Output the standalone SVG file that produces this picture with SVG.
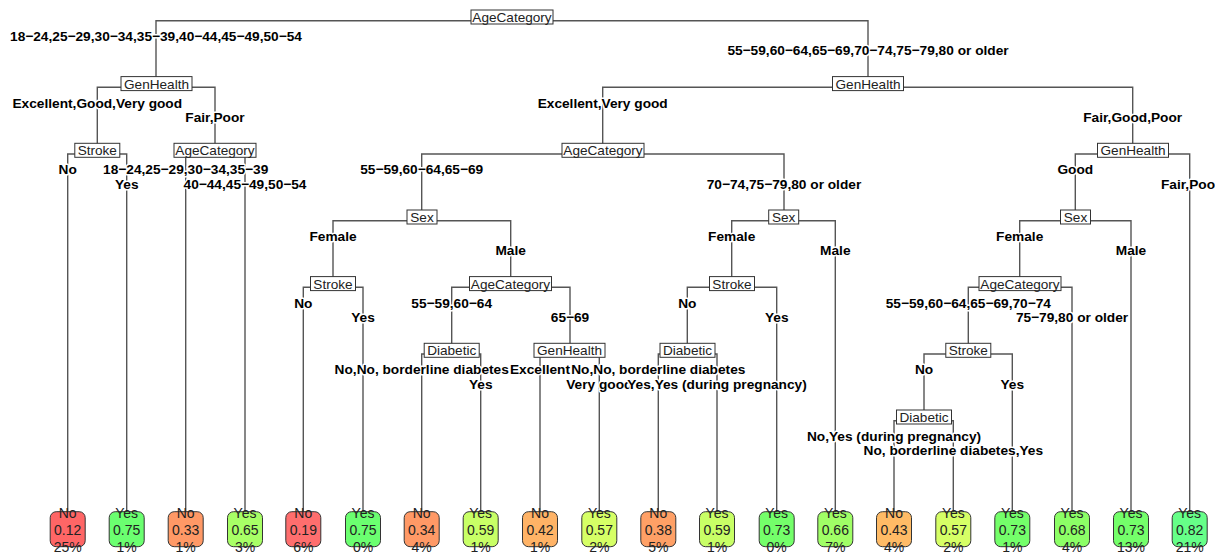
<svg xmlns="http://www.w3.org/2000/svg" width="1215" height="553" viewBox="0 0 1215 553">
<style>
.ln{fill:none;stroke:#555;stroke-width:1.4}
.lb{font-family:"Liberation Sans",Arial,sans-serif;font-size:13.7px;font-weight:bold;fill:#000;text-anchor:middle;stroke:#fff;stroke-width:3;paint-order:stroke;stroke-linejoin:round}
.sb{fill:#fff;stroke:#333;stroke-width:1}
.st{font-family:"Liberation Sans",Arial,sans-serif;font-size:13.6px;fill:#222;text-anchor:middle}
.lf{stroke:#333;stroke-width:1}
.lt{font-family:"Liberation Sans",Arial,sans-serif;font-size:14px;fill:#222;text-anchor:middle}
</style>
<rect width="1215" height="553" fill="#fff"/>
<g id="connectors">
<path class="ln" d="M156,83.6V20.7H868V83.6"/>
<path class="ln" d="M97.3,150.3V87.3H215V150.3"/>
<path class="ln" d="M67.7,512V154H126.7V512"/>
<path class="ln" d="M185.7,512V154H245V512"/>
<path class="ln" d="M602.7,150.3V87.3H1132.7V150.3"/>
<path class="ln" d="M421.7,217V154H784V217"/>
<path class="ln" d="M333,283.6V220.7H510.7V283.6"/>
<path class="ln" d="M303.3,512V287.3H363V512"/>
<path class="ln" d="M451.7,350.3V287.3H570V350.3"/>
<path class="ln" d="M421.7,512V354H480.7V512"/>
<path class="ln" d="M540,512V354H599.3V512"/>
<path class="ln" d="M731.7,283.6V220.7H835.3V512"/>
<path class="ln" d="M687.3,350.3V287.3H776.7V512"/>
<path class="ln" d="M658.3,512V354H717V512"/>
<path class="ln" d="M1075.3,217V154H1189.7V512"/>
<path class="ln" d="M1019.7,283.6V220.7H1131V512"/>
<path class="ln" d="M968.3,350.3V287.3H1072V512"/>
<path class="ln" d="M924,417V354H1012.3V512"/>
<path class="ln" d="M894,512V420.7H953.3V512"/>
</g>
<g id="edge-labels">
<text class="lb" x="156" y="41">18−24,25−29,30−34,35−39,40−44,45−49,50−54</text>
<text class="lb" x="868" y="55.2">55−59,60−64,65−69,70−74,75−79,80 or older</text>
<text class="lb" x="97.3" y="107.6">Excellent,Good,Very good</text>
<text class="lb" x="215" y="121.8">Fair,Poor</text>
<text class="lb" x="602.7" y="107.6">Excellent,Very good</text>
<text class="lb" x="1132.7" y="121.8">Fair,Good,Poor</text>
<text class="lb" x="67.7" y="174.3">No</text>
<text class="lb" x="126.7" y="188.5">Yes</text>
<text class="lb" x="185.7" y="174.3">18−24,25−29,30−34,35−39</text>
<text class="lb" x="245" y="188.5">40−44,45−49,50−54</text>
<text class="lb" x="421.7" y="174.3">55−59,60−64,65−69</text>
<text class="lb" x="784" y="188.5">70−74,75−79,80 or older</text>
<text class="lb" x="1075.3" y="174.3">Good</text>
<text class="lb" x="1161" y="188.5" style="text-anchor:start">Fair,Poo</text>
<text class="lb" x="333" y="241">Female</text>
<text class="lb" x="510.7" y="255.2">Male</text>
<text class="lb" x="731.7" y="241">Female</text>
<text class="lb" x="835.3" y="255.2">Male</text>
<text class="lb" x="1019.7" y="241">Female</text>
<text class="lb" x="1131" y="255.2">Male</text>
<text class="lb" x="303.3" y="307.6">No</text>
<text class="lb" x="363" y="321.8">Yes</text>
<text class="lb" x="451.7" y="307.6">55−59,60−64</text>
<text class="lb" x="570" y="321.8">65−69</text>
<text class="lb" x="687.3" y="307.6">No</text>
<text class="lb" x="776.7" y="321.8">Yes</text>
<text class="lb" x="968.3" y="307.6">55−59,60−64,65−69,70−74</text>
<text class="lb" x="1072" y="321.8">75−79,80 or older</text>
<text class="lb" x="421.7" y="374.3">No,No, borderline diabetes</text>
<text class="lb" x="480.7" y="388.5">Yes</text>
<text class="lb" x="540" y="374.3">Excellent</text>
<text class="lb" x="599.3" y="388.5">Very good</text>
<text class="lb" x="658.3" y="374.3">No,No, borderline diabetes</text>
<text class="lb" x="717" y="388.5">Yes,Yes (during pregnancy)</text>
<text class="lb" x="924" y="374.3">No</text>
<text class="lb" x="1012.3" y="388.5">Yes</text>
<text class="lb" x="894" y="441">No,Yes (during pregnancy)</text>
<text class="lb" x="953.3" y="455.2">No, borderline diabetes,Yes</text>
</g>
<g id="n1"><rect class="sb" x="471" y="10" width="82" height="14"/><text class="st" x="512" y="22">AgeCategory</text></g>
<g id="n2"><rect class="sb" x="121" y="76.6" width="71" height="14"/><text class="st" x="156.5" y="88.6">GenHealth</text></g>
<g id="n3"><rect class="sb" x="74.8" y="143.3" width="45" height="14"/><text class="st" x="97.3" y="155.3">Stroke</text></g>
<g id="n4"><rect class="sb" x="174" y="143.3" width="82" height="14"/><text class="st" x="215" y="155.3">AgeCategory</text></g>
<g id="n5"><rect class="sb" x="832.5" y="76.6" width="71" height="14"/><text class="st" x="868" y="88.6">GenHealth</text></g>
<g id="n6"><rect class="sb" x="562" y="143.3" width="82" height="14"/><text class="st" x="603" y="155.3">AgeCategory</text></g>
<g id="n7"><rect class="sb" x="407" y="210" width="30" height="14"/><text class="st" x="422" y="222">Sex</text></g>
<g id="n8"><rect class="sb" x="310.5" y="276.6" width="45" height="14"/><text class="st" x="333" y="288.6">Stroke</text></g>
<g id="n9"><rect class="sb" x="469.5" y="276.6" width="82" height="14"/><text class="st" x="510.5" y="288.6">AgeCategory</text></g>
<g id="n10"><rect class="sb" x="424.2" y="343.3" width="55" height="14"/><text class="st" x="451.7" y="355.3">Diabetic</text></g>
<g id="n11"><rect class="sb" x="534" y="343.3" width="71" height="14"/><text class="st" x="569.5" y="355.3">GenHealth</text></g>
<g id="n12"><rect class="sb" x="768.7" y="210" width="30" height="14"/><text class="st" x="783.7" y="222">Sex</text></g>
<g id="n13"><rect class="sb" x="709.5" y="276.6" width="45" height="14"/><text class="st" x="732" y="288.6">Stroke</text></g>
<g id="n14"><rect class="sb" x="660" y="343.3" width="55" height="14"/><text class="st" x="687.5" y="355.3">Diabetic</text></g>
<g id="n15"><rect class="sb" x="1097.5" y="143.3" width="71" height="14"/><text class="st" x="1133" y="155.3">GenHealth</text></g>
<g id="n16"><rect class="sb" x="1060.5" y="210" width="30" height="14"/><text class="st" x="1075.5" y="222">Sex</text></g>
<g id="n17"><rect class="sb" x="979" y="276.6" width="82" height="14"/><text class="st" x="1020" y="288.6">AgeCategory</text></g>
<g id="n18"><rect class="sb" x="945.8" y="343.3" width="45" height="14"/><text class="st" x="968.3" y="355.3">Stroke</text></g>
<g id="n19"><rect class="sb" x="896.5" y="410" width="55" height="14"/><text class="st" x="924" y="422">Diabetic</text></g>
<g id="leaf1"><rect class="lf" x="50.2" y="511.7" width="35" height="35" rx="6" fill="#FF6666"/><text class="lt" x="67.7" y="518">No</text><text class="lt" x="67.7" y="535">0.12</text><text class="lt" x="67.7" y="552">25%</text></g>
<g id="leaf2"><rect class="lf" x="109.2" y="511.7" width="35" height="35" rx="6" fill="#6BFF70"/><text class="lt" x="126.7" y="518">Yes</text><text class="lt" x="126.7" y="535">0.75</text><text class="lt" x="126.7" y="552">1%</text></g>
<g id="leaf3"><rect class="lf" x="168.2" y="511.7" width="35" height="35" rx="6" fill="#FF9966"/><text class="lt" x="185.7" y="518">No</text><text class="lt" x="185.7" y="535">0.33</text><text class="lt" x="185.7" y="552">1%</text></g>
<g id="leaf4"><rect class="lf" x="227.5" y="511.7" width="35" height="35" rx="6" fill="#A8FF66"/><text class="lt" x="245" y="518">Yes</text><text class="lt" x="245" y="535">0.65</text><text class="lt" x="245" y="552">3%</text></g>
<g id="leaf5"><rect class="lf" x="285.8" y="511.7" width="35" height="35" rx="6" fill="#FF6E6E"/><text class="lt" x="303.3" y="518">No</text><text class="lt" x="303.3" y="535">0.19</text><text class="lt" x="303.3" y="552">6%</text></g>
<g id="leaf6"><rect class="lf" x="345.5" y="511.7" width="35" height="35" rx="6" fill="#6BFF70"/><text class="lt" x="363" y="518">Yes</text><text class="lt" x="363" y="535">0.75</text><text class="lt" x="363" y="552">0%</text></g>
<g id="leaf7"><rect class="lf" x="404.2" y="511.7" width="35" height="35" rx="6" fill="#FF9966"/><text class="lt" x="421.7" y="518">No</text><text class="lt" x="421.7" y="535">0.34</text><text class="lt" x="421.7" y="552">4%</text></g>
<g id="leaf8"><rect class="lf" x="463.2" y="511.7" width="35" height="35" rx="6" fill="#C8FF66"/><text class="lt" x="480.7" y="518">Yes</text><text class="lt" x="480.7" y="535">0.59</text><text class="lt" x="480.7" y="552">1%</text></g>
<g id="leaf9"><rect class="lf" x="522.5" y="511.7" width="35" height="35" rx="6" fill="#FFB366"/><text class="lt" x="540" y="518">No</text><text class="lt" x="540" y="535">0.42</text><text class="lt" x="540" y="552">1%</text></g>
<g id="leaf10"><rect class="lf" x="581.8" y="511.7" width="35" height="35" rx="6" fill="#D6FF66"/><text class="lt" x="599.3" y="518">Yes</text><text class="lt" x="599.3" y="535">0.57</text><text class="lt" x="599.3" y="552">2%</text></g>
<g id="leaf11"><rect class="lf" x="640.8" y="511.7" width="35" height="35" rx="6" fill="#FFA066"/><text class="lt" x="658.3" y="518">No</text><text class="lt" x="658.3" y="535">0.38</text><text class="lt" x="658.3" y="552">5%</text></g>
<g id="leaf12"><rect class="lf" x="699.5" y="511.7" width="35" height="35" rx="6" fill="#C8FF66"/><text class="lt" x="717" y="518">Yes</text><text class="lt" x="717" y="535">0.59</text><text class="lt" x="717" y="552">1%</text></g>
<g id="leaf13"><rect class="lf" x="759.2" y="511.7" width="35" height="35" rx="6" fill="#74FF6A"/><text class="lt" x="776.7" y="518">Yes</text><text class="lt" x="776.7" y="535">0.73</text><text class="lt" x="776.7" y="552">0%</text></g>
<g id="leaf14"><rect class="lf" x="817.8" y="511.7" width="35" height="35" rx="6" fill="#A0FF66"/><text class="lt" x="835.3" y="518">Yes</text><text class="lt" x="835.3" y="535">0.66</text><text class="lt" x="835.3" y="552">7%</text></g>
<g id="leaf15"><rect class="lf" x="876.5" y="511.7" width="35" height="35" rx="6" fill="#FFBB66"/><text class="lt" x="894" y="518">No</text><text class="lt" x="894" y="535">0.43</text><text class="lt" x="894" y="552">4%</text></g>
<g id="leaf16"><rect class="lf" x="935.8" y="511.7" width="35" height="35" rx="6" fill="#D6FF66"/><text class="lt" x="953.3" y="518">Yes</text><text class="lt" x="953.3" y="535">0.57</text><text class="lt" x="953.3" y="552">2%</text></g>
<g id="leaf17"><rect class="lf" x="994.8" y="511.7" width="35" height="35" rx="6" fill="#74FF6A"/><text class="lt" x="1012.3" y="518">Yes</text><text class="lt" x="1012.3" y="535">0.73</text><text class="lt" x="1012.3" y="552">1%</text></g>
<g id="leaf18"><rect class="lf" x="1054.5" y="511.7" width="35" height="35" rx="6" fill="#8CFF66"/><text class="lt" x="1072" y="518">Yes</text><text class="lt" x="1072" y="535">0.68</text><text class="lt" x="1072" y="552">4%</text></g>
<g id="leaf19"><rect class="lf" x="1113.5" y="511.7" width="35" height="35" rx="6" fill="#74FF6A"/><text class="lt" x="1131" y="518">Yes</text><text class="lt" x="1131" y="535">0.73</text><text class="lt" x="1131" y="552">13%</text></g>
<g id="leaf20"><rect class="lf" x="1172.2" y="511.7" width="35" height="35" rx="6" fill="#66FF88"/><text class="lt" x="1189.7" y="518">Yes</text><text class="lt" x="1189.7" y="535">0.82</text><text class="lt" x="1189.7" y="552">21%</text></g>
</svg>
